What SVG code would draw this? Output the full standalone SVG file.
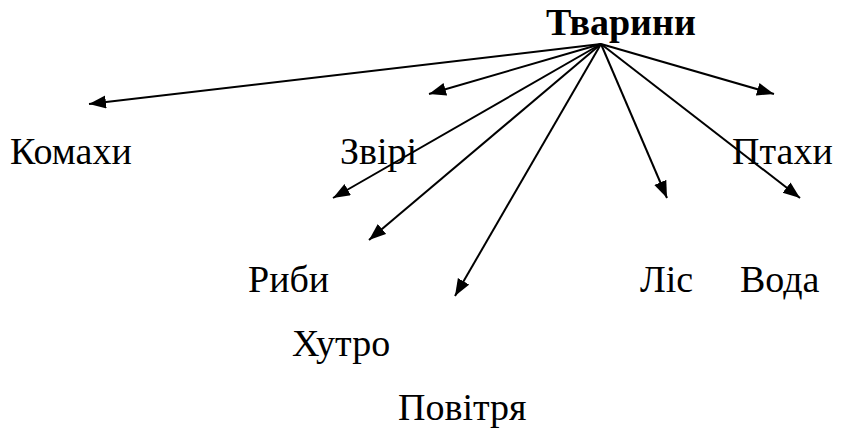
<svg xmlns="http://www.w3.org/2000/svg" width="846" height="428" viewBox="0 0 846 428">
<style>
text{font-family:"Liberation Serif","Times New Roman",serif;font-size:38px;fill:#000}
.title{font-weight:bold}
.c line{stroke:#000;stroke-width:2;marker-end:url(#ah)}
</style>
<defs>
<marker id="ah" markerUnits="userSpaceOnUse" markerWidth="18" markerHeight="14" refX="17" refY="6.5" orient="auto">
<path d="M0,0 L17,6.5 L0,13 z" fill="#000"/>
</marker>
</defs>
<rect width="846" height="428" fill="#fff"/>
<g id="connectors" class="c">
<line x1="601" y1="44" x2="89" y2="104"/>
<line x1="601" y1="44" x2="429" y2="94"/>
<line x1="601" y1="44" x2="333" y2="198"/>
<line x1="601" y1="44" x2="369" y2="240"/>
<line x1="601" y1="44" x2="455" y2="296"/>
<line x1="601" y1="44" x2="667" y2="198"/>
<line x1="601" y1="44" x2="800" y2="198"/>
<line x1="601" y1="44" x2="774" y2="94"/>
</g>
<g id="n-tvaryny"><text class="title" x="546" y="35">Тварини</text></g>
<g id="n-komakhy"><text x="10" y="164">Комахи</text></g>
<g id="n-zviri"><text x="340" y="164">Звірі</text></g>
<g id="n-ptakhy"><text x="732" y="164">Птахи</text></g>
<g id="n-ryby"><text x="248" y="292">Риби</text></g>
<g id="n-lis"><text x="640" y="292">Ліс</text></g>
<g id="n-voda"><text x="740" y="292">Вода</text></g>
<g id="n-khutro"><text x="292" y="356">Хутро</text></g>
<g id="n-povitria"><text x="398" y="420">Повітря</text></g>
</svg>
